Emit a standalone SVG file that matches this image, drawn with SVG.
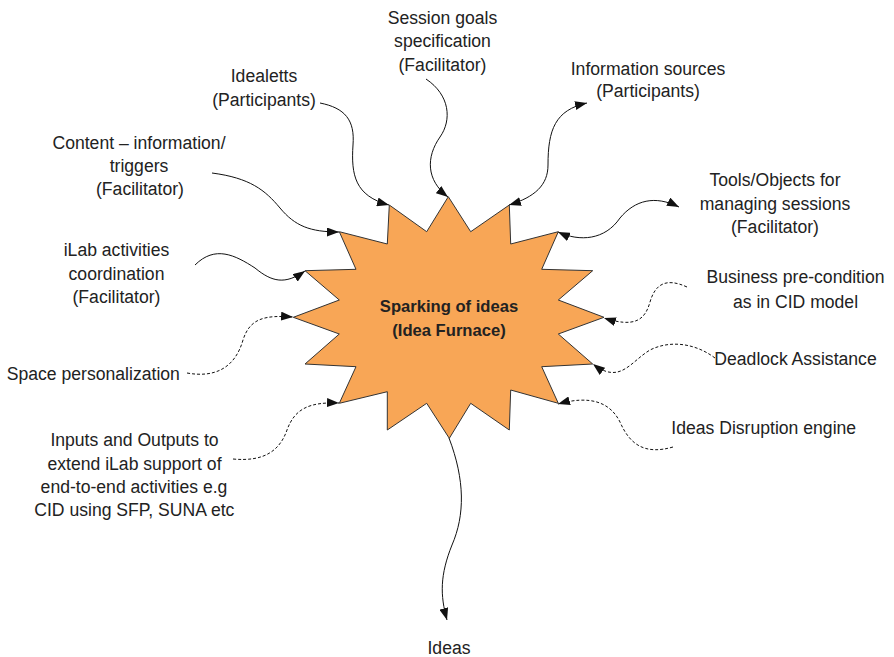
<svg xmlns="http://www.w3.org/2000/svg" width="894" height="657" viewBox="0 0 894 657">
<style>
.lbl{font-family:"Liberation Sans",Arial,sans-serif;font-size:17.6px;fill:#222;text-anchor:middle}
.ctr{font-family:"Liberation Sans",Arial,sans-serif;font-size:16.6px;font-weight:bold;fill:#222;text-anchor:middle}
.c{fill:none;stroke:#111;stroke-width:1}
.d{stroke-dasharray:3,2}
.e{marker-end:url(#ah)}
.s{marker-start:url(#ahs)}
</style>
<defs>
<marker id="ah" viewBox="0 0 12 9" refX="12" refY="4.5" markerWidth="12" markerHeight="9" markerUnits="userSpaceOnUse" orient="auto">
<path d="M0,0 L12,4.5 L0,9 Z" fill="#111"/>
</marker>
<marker id="ahs" viewBox="0 0 12 9" refX="12" refY="4.5" markerWidth="12" markerHeight="9" markerUnits="userSpaceOnUse" orient="auto-start-reverse">
<path d="M0,0 L12,4.5 L0,9 Z" fill="#111"/>
</marker>
</defs>
<g id="connectors">
<path class="c e" d="M426,79 C450,95 452,120 440,137 C426,157 426,180 448,197"/>
<path class="c e" d="M320,103 C345,108 355,120 353,145 C351,175 355,196 389,205"/>
<path class="c e" d="M212,173 C250,178 265,190 280,208 C295,226 310,232 339,232"/>
<path class="c e s" d="M509,205 C535,197 548,185 548,165 C548,130 555,110 587,103"/>
<path class="c e s" d="M558,232 C580,242 605,240 620,218 C635,200 655,195 679,207"/>
<path class="c e" d="M195,265 C215,245 235,255 255,268 C272,282 285,285 305,271"/>
<path class="c d e" d="M187,373 C215,378 235,368 243,340 C250,318 265,315 293,317"/>
<path class="c d e" d="M233,459 C265,462 280,450 287,430 C295,408 310,402 339,403"/>
<path class="c d e" d="M687,287 C665,277 655,285 650,302 C645,320 635,328 604,318"/>
<path class="c d e" d="M715,358 C695,343 670,340 650,350 C630,362 620,385 593,364"/>
<path class="c d e" d="M673,447 C645,455 630,445 620,422 C610,402 590,395 558,404"/>
<path class="c e" d="M449,438 C465,480 465,515 452,545 C440,575 440,595 447,620"/>
</g>
<g id="star">
<polygon points="448.3,196.7 470.7,231.7 509.3,205 510.7,244 558.3,231.7 541.7,269.3 592.7,270.7 558.3,300 604,317.3 558.3,334 592.7,364 541.7,366.7 558.3,403.3 510.7,390 509.3,430 470.7,403.3 449.3,438.3 426.7,403.3 387.3,430 387.3,391.7 339.3,403.3 356,366.7 305,364 339.3,334 293.3,317.3 339.3,300 305,270.7 356,269.3 339.3,231.7 387.3,244 389.3,205 426.7,231.7" fill="#F8A656" stroke="#333" stroke-width="1"/>
<text class="ctr" x="449" y="312">Sparking of ideas</text>
<text class="ctr" x="449" y="336">(Idea Furnace)</text>
</g>
<g id="session-goals"><text class="lbl" x="442.5" y="23.5">Session goals</text><text class="lbl" x="442.5" y="47">specification</text><text class="lbl" x="442.5" y="71">(Facilitator)</text></g>
<g id="idealetts"><text class="lbl" x="264" y="82">Idealetts</text><text class="lbl" x="264" y="105.5">(Participants)</text></g>
<g id="content"><text class="lbl" x="139" y="148.5">Content – information/</text><text class="lbl" x="139" y="172">triggers</text><text class="lbl" x="140" y="195">(Facilitator)</text></g>
<g id="info-sources"><text class="lbl" x="648" y="74.5">Information sources</text><text class="lbl" x="648" y="97">(Participants)</text></g>
<g id="tools"><text class="lbl" x="775" y="186">Tools/Objects for</text><text class="lbl" x="775" y="209.5">managing sessions</text><text class="lbl" x="775" y="233">(Facilitator)</text></g>
<g id="ilab"><text class="lbl" x="116.5" y="256">iLab activities</text><text class="lbl" x="116.5" y="279.5">coordination</text><text class="lbl" x="116.5" y="303">(Facilitator)</text></g>
<g id="space"><text class="lbl" x="93.3" y="380">Space personalization</text></g>
<g id="inputs"><text class="lbl" x="134.5" y="446">Inputs and Outputs to</text><text class="lbl" x="134.5" y="469.5">extend iLab support of</text><text class="lbl" x="134" y="493">end-to-end activities e.g</text><text class="lbl" x="134.3" y="516">CID using SFP, SUNA etc</text></g>
<g id="business"><text class="lbl" x="795.5" y="283">Business pre-condition</text><text class="lbl" x="795.5" y="307.5">as in CID model</text></g>
<g id="deadlock"><text class="lbl" x="795.5" y="365">Deadlock Assistance</text></g>
<g id="disruption"><text class="lbl" x="763.7" y="434">Ideas Disruption engine</text></g>
<g id="ideas"><text class="lbl" x="449" y="654">Ideas</text></g>
</svg>
